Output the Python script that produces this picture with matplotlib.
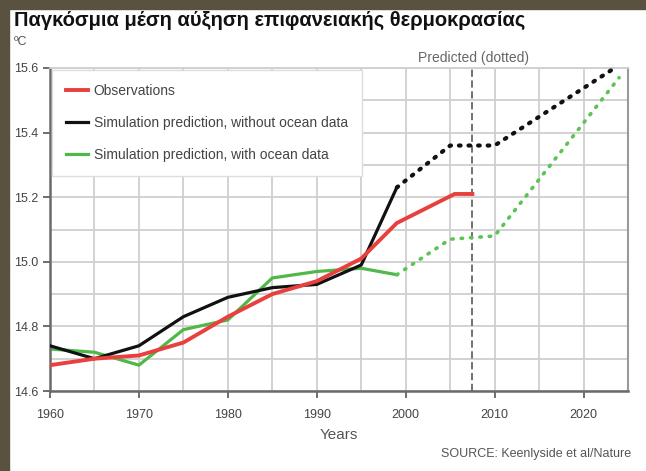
import matplotlib
matplotlib.use("Agg")
import matplotlib.pyplot as plt
from matplotlib.patches import Rectangle

# values
obs_years = [1960, 1965, 1970, 1975, 1980, 1985, 1990, 1995, 1999, 2005.5, 2007.5]
obs_temp = [14.68, 14.70, 14.71, 14.75, 14.83, 14.90, 14.94, 15.01, 15.12, 15.21, 15.21]

noocean_years = [1960, 1965, 1970, 1975, 1980, 1985, 1990, 1995, 1999]
noocean_temp = [14.74, 14.70, 14.74, 14.83, 14.89, 14.92, 14.93, 14.99, 15.23]
noocean_pred_years = [1999, 2005, 2010, 2023.5]
noocean_pred_temp = [15.23, 15.36, 15.36, 15.60]

ocean_years = [1960, 1965, 1970, 1975, 1980, 1985, 1990, 1995, 1999]
ocean_temp = [14.73, 14.72, 14.68, 14.79, 14.82, 14.95, 14.97, 14.98, 14.96]
ocean_pred_years = [1999, 2005, 2010, 2024]
ocean_pred_temp = [14.96, 15.07, 15.08, 15.57]

forecast_start = 2007.5
xticks = [1960, 1970, 1980, 1990, 2000, 2010, 2020]
yticks = [14.6, 14.8, 15.0, 15.2, 15.4, 15.6]

plt.rcParams['font.family'] = ['Liberation Sans', 'DejaVu Sans']

fig = plt.figure(figsize=(6.46, 4.71), dpi=100)
fig.patch.set_facecolor('white')
ax = fig.add_axes([50/646, 1-391/471, 578/646, 323/471])

red = '#e8403f'
green = '#4fb848'
ax.plot(obs_years, obs_temp, color=red, lw=2.8, label='Observations', zorder=4)
ax.plot(noocean_years, noocean_temp, color='#111111', lw=2.3,
        label='Simulation prediction, without ocean data', zorder=3)
ax.plot(ocean_years, ocean_temp, color=green, lw=2.3,
        label='Simulation prediction, with ocean data', zorder=2)
ax.plot(noocean_pred_years, noocean_pred_temp, color='#111111', lw=3,
        linestyle=(0, (0.4, 1.9)), dash_capstyle='round', zorder=3)
ax.plot(ocean_pred_years, ocean_pred_temp, color='#5cc454', lw=2.6,
        linestyle=(0, (0.4, 2.2)), dash_capstyle='round', zorder=2)

ax.axvline(forecast_start, color='#666666', lw=1.3, linestyle=(0, (4, 2)), zorder=1)

ax.set_xlim(1960, 2025)
ax.set_ylim(14.6, 15.6)
ax.set_xticks(xticks)
ax.set_yticks(yticks)
ax.set_yticklabels(['14.6', '14.8', '15.0', '15.2', '15.4', '15.6'])
ax.set_xticks(range(1965, 2025, 5), minor=True)
ax.set_yticks([14.7, 14.9, 15.1, 15.3, 15.5], minor=True)
ax.grid(True, which='both', color='#cfcfcf', lw=1.3)
ax.set_axisbelow(True)
ax.tick_params(axis='both', which='major', labelsize=9, colors='#555555',
               labelcolor='#444444', length=5, width=1.2)
ax.tick_params(axis='x', which='major', pad=8)
ax.tick_params(which='minor', length=0)
for side in ['left', 'bottom']:
    ax.spines[side].set_color('#6a6a6a')
    ax.spines[side].set_linewidth(1.8)
ax.spines['right'].set_color('#9a9a9a')
ax.spines['right'].set_linewidth(1.5)
ax.spines['top'].set_color('#cfcfcf')
ax.spines['top'].set_linewidth(1.3)

ax.set_xlabel('Years', fontsize=11, color='#555555', labelpad=5)

leg = ax.legend(loc='upper left', bbox_to_anchor=(0.0, 1.0), borderaxespad=0.15,
                fontsize=10, frameon=True, fancybox=False, handlelength=1.6,
                handletextpad=0.4, labelspacing=1.3, borderpad=1.0,
                labelcolor='#444444')
leg.get_frame().set_edgecolor('#dddddd')
leg.get_frame().set_linewidth(1.0)
leg.get_frame().set_alpha(1)

fig.text(14/646, 1-20/471, 'Παγκόσμια μέση αύξηση επιφανειακής θερμοκρασίας',
         fontsize=14.5, fontweight='bold', color='#111111', va='center', ha='left')
fig.text(14/646, 1-42/471, 'ºC', fontsize=9, color='#555555', va='center', ha='left')
fig.text(473/646, 1-58/471, 'Predicted (dotted)', fontsize=10, color='#666666',
         va='center', ha='center')
fig.text(441/646, 1-454/471, 'SOURCE: Keenlyside et al/Nature', fontsize=9,
         color='#555555', va='center', ha='left')

# dark frame from the screenshot
fig.patches.append(Rectangle((0, 0), 9/646, 1, transform=fig.transFigure,
                             color='#5a5241', zorder=10))
fig.patches.append(Rectangle((0, 1-9/471), 1, 9/471, transform=fig.transFigure,
                             color='#5a5241', zorder=10))

fig.savefig('out.png', dpi=100)
